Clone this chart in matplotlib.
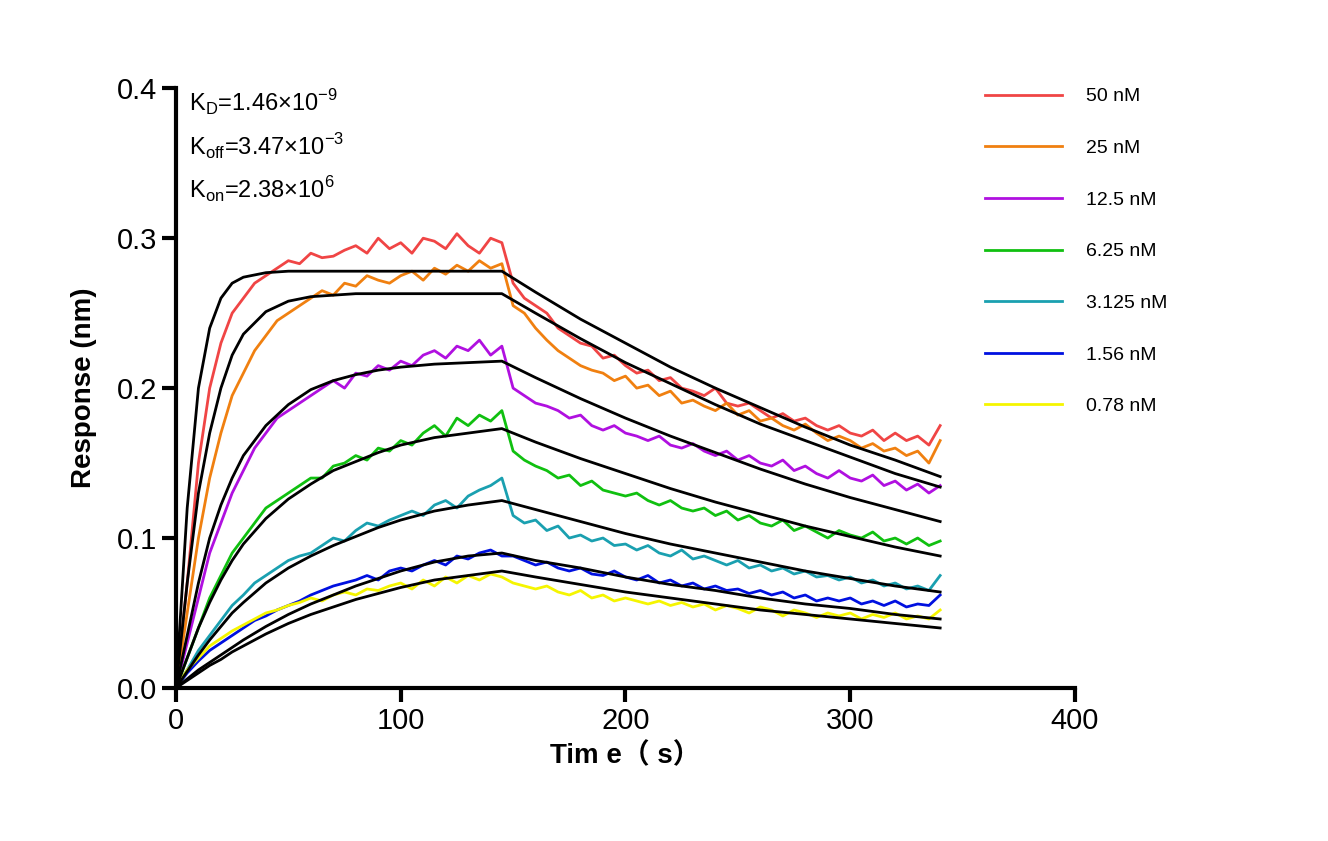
import numpy as np
import matplotlib
matplotlib.use("Agg")
import matplotlib.pyplot as plt

plt.rcParams['font.family'] = ['Liberation Sans', 'DejaVu Sans']

labels = ["50 nM", "25 nM", "12.5 nM", "6.25 nM", "3.125 nM", "1.56 nM", "0.78 nM"]
colors = ["#f04545", "#f08010", "#b010e0", "#10c010", "#1aa0b0", "#0010e0", "#f5f500"]

t_data = np.arange(0, 345, 5)

d50 = [0,.07,.15,.2,.23,.25,.26,.27,.275,.28,
       .285,.283,.29,.287,.288,.292,.295,.29,.3,.293,
       .297,.29,.3,.298,.293,.303,.295,.29,.3,.297,
       .27,.26,.255,.25,.24,.235,.23,.228,.22,.222,
       .215,.21,.212,.205,.207,.2,.198,.195,.2,.19,
       .188,.19,.185,.18,.183,.178,.18,.175,.172,.175,
       .17,.168,.172,.165,.17,.165,.168,.162,.175]
d25 = [0,.05,.1,.14,.17,.195,.21,.225,.235,.245,
       .25,.255,.26,.265,.262,.27,.268,.275,.272,.27,
       .275,.278,.272,.28,.276,.282,.278,.285,.28,.283,
       .255,.25,.24,.232,.225,.22,.215,.212,.21,.205,
       .208,.2,.202,.195,.198,.19,.192,.188,.185,.19,
       .182,.185,.178,.18,.175,.172,.176,.17,.165,.168,
       .165,.16,.163,.158,.16,.155,.158,.15,.165]
d12 = [0,.03,.06,.09,.11,.13,.145,.16,.17,.18,
       .185,.19,.195,.2,.205,.2,.21,.208,.215,.212,
       .218,.215,.222,.225,.22,.228,.225,.232,.222,.228,
       .2,.195,.19,.188,.185,.18,.182,.175,.172,.175,
       .17,.168,.165,.168,.162,.16,.163,.158,.155,.158,
       .152,.155,.15,.148,.152,.145,.148,.143,.14,.145,
       .14,.138,.142,.135,.138,.132,.136,.13,.135]
d6 = [0,.02,.04,.06,.075,.09,.1,.11,.12,.125,
      .13,.135,.14,.14,.148,.15,.155,.152,.16,.158,
      .165,.162,.17,.175,.168,.18,.175,.182,.178,.185,
      .158,.152,.148,.145,.14,.142,.135,.138,.132,.13,
      .128,.13,.125,.122,.125,.12,.118,.12,.115,.118,
      .112,.115,.11,.108,.112,.105,.108,.104,.1,.105,
      .102,.1,.104,.098,.1,.096,.1,.095,.098]
d3 = [0,.012,.025,.035,.045,.055,.062,.07,.075,.08,
      .085,.088,.09,.095,.1,.098,.105,.11,.108,.112,
      .115,.118,.115,.122,.125,.12,.128,.132,.135,.14,
      .115,.11,.112,.105,.108,.1,.102,.098,.1,.095,
      .096,.092,.095,.09,.088,.092,.086,.088,.085,.082,
      .085,.08,.082,.078,.08,.076,.078,.074,.075,.072,
      .074,.07,.072,.068,.07,.066,.068,.065,.075]
d1 = [0,.01,.018,.025,.03,.035,.04,.045,.048,.052,
      .055,.058,.062,.065,.068,.07,.072,.075,.072,.078,
      .08,.078,.082,.085,.082,.088,.086,.09,.092,.088,
      .088,.085,.082,.084,.08,.078,.08,.076,.075,.078,
      .074,.072,.075,.07,.072,.068,.07,.066,.068,.065,
      .066,.063,.065,.062,.064,.06,.062,.058,.06,.058,
      .06,.056,.058,.055,.058,.054,.056,.055,.062]
d0 = [0,.012,.02,.028,.033,.038,.042,.046,.05,.052,
      .055,.057,.06,.058,.062,.064,.062,.066,.065,.068,
      .07,.066,.072,.068,.074,.07,.075,.072,.076,.074,
      .07,.068,.066,.068,.064,.062,.065,.06,.062,.058,
      .06,.058,.056,.058,.055,.057,.054,.056,.052,.055,
      .053,.05,.054,.052,.048,.052,.05,.047,.05,.048,
      .05,.046,.049,.047,.05,.046,.048,.046,.052]
data = [d50, d25, d12, d6, d3, d1, d0]

t_fit = [0,5,10,15,20,25,30,40,50,60,70,80,90,100,115,130,145,
         160,180,200,220,240,260,280,300,320,340]
f50 = [0,.12,.2,.24,.26,.27,.274,.277,.278,.278,.278,.278,.278,.278,.278,.278,.278,
       .264,.246,.230,.214,.200,.187,.174,.162,.152,.141]
f25 = [0,.07,.13,.17,.2,.222,.236,.251,.258,.261,.262,.263,.263,.263,.263,.263,.263,
       .250,.233,.217,.203,.189,.176,.165,.154,.143,.134]
f12 = [0,.035,.07,.1,.122,.14,.155,.175,.189,.199,.205,.209,.212,.214,.216,.217,.218,
       .207,.193,.180,.168,.157,.146,.136,.127,.119,.111]
f6 = [0,.02,.04,.057,.072,.085,.096,.113,.126,.136,.145,.151,.157,.162,.167,.170,.173,
      .164,.153,.143,.133,.124,.116,.108,.101,.094,.088]
f3 = [0,.011,.022,.032,.041,.05,.057,.07,.08,.088,.095,.101,.107,.112,.118,.122,.125,
      .119,.111,.103,.096,.090,.084,.078,.073,.068,.064]
f1 = [0,.006,.012,.017,.022,.027,.032,.041,.049,.056,.062,.068,.073,.078,.084,.088,.090,
      .085,.080,.074,.069,.065,.060,.056,.053,.049,.046]
f0 = [0,.005,.01,.015,.019,.024,.028,.036,.043,.049,.054,.059,.063,.067,.072,.075,.078,
      .074,.069,.064,.060,.056,.052,.049,.046,.043,.040]
fits = [f50, f25, f12, f6, f3, f1, f0]

fig = plt.figure(figsize=(13.28, 8.41), dpi=100)
ax = fig.add_axes([0.1325, 0.182, 0.677, 0.713])

for d, c, l in zip(data, colors, labels):
    ax.plot(t_data, d, color=c, lw=2, label=l)
for f in fits:
    ax.plot(t_fit, f, color='black', lw=2)

ax.set_xlim(0, 400)
ax.set_ylim(0, 0.4)
ax.set_xticks([0, 100, 200, 300, 400])
ax.set_yticks([0, 0.1, 0.2, 0.3, 0.4])
ax.set_yticklabels(["0.0", "0.1", "0.2", "0.3", "0.4"])
for s in ['top', 'right']:
    ax.spines[s].set_visible(False)
for s in ['left', 'bottom']:
    ax.spines[s].set_linewidth(3)
ax.tick_params(width=3, length=10, labelsize=21, direction='out')
ax.set_xlabel("Tim e\uff08 s\uff09", fontsize=20, fontweight='bold',
              family=['Liberation Sans', 'Noto Sans CJK SC'], labelpad=6)
ax.set_ylabel("Response (nm)", fontsize=20, fontweight='bold', labelpad=14)

ax.text(0.015, 1.0, "K$_\\mathregular{D}$=1.46×10$^\\mathregular{-9}$\nK$_\\mathregular{off}$=3.47×10$^\\mathregular{-3}$\nK$_\\mathregular{on}$=2.38×10$^\\mathregular{6}$",
        transform=ax.transAxes, va='top', ha='left', fontsize=17, linespacing=1.55)

ax.legend(loc='upper left', bbox_to_anchor=(0.88, 1.03), frameon=False,
          fontsize=14, handlelength=4, handletextpad=1.2, labelspacing=1.75)

fig.savefig("out.png", dpi=100)
